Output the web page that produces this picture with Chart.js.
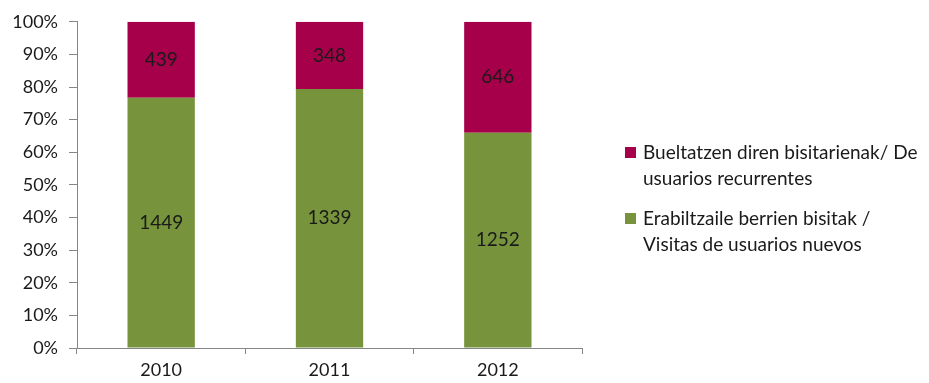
<!DOCTYPE html>
<html>
<head>
<meta charset="utf-8">
<script src="https://cdn.jsdelivr.net/npm/chart.js@4"></script>
<style>
  html, body { margin: 0; padding: 0; background: #fff; }
  #wrap { width: 929px; height: 383px; }
</style>
</head>
<body>
<div id="wrap"><canvas id="myChart" width="929" height="383"></canvas></div>
<script>
var years = ['2010', '2011', '2012'];
var newVisits = [1449, 1339, 1252];
var returnVisits = [439, 348, 646];
var legendLines = [
    ['Bueltatzen diren bisitarienak/ De', 'usuarios recurrentes'],
    ['Erabiltzaile berrien bisitak /', 'Visitas de usuarios nuevos']
];
var yTicks = [0, 10, 20, 30, 40, 50, 60, 70, 80, 90, 100];

var redColor = '#A6004A';
var greenColor = '#77933C';
var textColor = '#1a1a1a';
var fontFamily = 'Lato, "Open Sans", sans-serif';

// share of each year's total, labels still show the counts
var totals = years.map(function (y, i) { return newVisits[i] + returnVisits[i]; });
var newPct = newVisits.map(function (v, i) { return v / totals[i] * 100; });
var retPct = returnVisits.map(function (v, i) { return v / totals[i] * 100; });

// write the counts in the middle of each segment
var valueLabels = {
    id: 'valueLabels',
    afterDatasetsDraw: function (chart) {
        var ctx = chart.ctx;
        ctx.save();
        ctx.font = '19px ' + fontFamily;
        ctx.fillStyle = textColor;
        ctx.textAlign = 'center';
        ctx.textBaseline = 'middle';
        chart.data.datasets.forEach(function (ds, di) {
            chart.getDatasetMeta(di).data.forEach(function (bar, i) {
                var p = bar.getProps(['x', 'y', 'base'], true);
                ctx.fillText(String(ds.counts[i]), p.x, (p.y + p.base) / 2);
            });
        });
        ctx.restore();
    }
};

// two-line legend on the right side
var sideLegend = {
    id: 'sideLegend',
    afterDraw: function (chart) {
        var ctx = chart.ctx;
        var items = [
            { color: redColor, lines: legendLines[0], top: 152 },
            { color: greenColor, lines: legendLines[1], top: 218 }
        ];
        ctx.save();
        ctx.font = '19px ' + fontFamily;
        ctx.textBaseline = 'middle';
        items.forEach(function (it) {
            ctx.fillStyle = it.color;
            ctx.fillRect(625, it.top - 5, 11, 11);
            ctx.fillStyle = textColor;
            it.lines.forEach(function (line, k) {
                ctx.fillText(line, 643, it.top + 1 + k * 26);
            });
        });
        ctx.restore();
    }
};

var ctx = document.getElementById('myChart');
var myChart = new Chart(ctx, {
    type: 'bar',
    data: {
        labels: years,
        datasets: [{
            label: legendLines[1].join(' '),
            data: newPct,
            counts: newVisits,
            backgroundColor: greenColor,
            categoryPercentage: 1,
            barPercentage: 0.4
        },
        {
            label: legendLines[0].join(' '),
            data: retPct,
            counts: returnVisits,
            backgroundColor: redColor,
            categoryPercentage: 1,
            barPercentage: 0.4
        }]
    },
    options: {
        responsive: false,
        animation: false,
        layout: { padding: { left: 0, top: 20, right: 347, bottom: 0 } },
        plugins: {
            legend: { display: false },
            tooltip: { enabled: false }
        },
        scales: {
            x: {
                stacked: true,
                grid: { offset: true, drawOnChartArea: false, drawTicks: true, tickLength: 6, color: '#868686' },
                border: { color: '#868686' },
                ticks: { color: textColor, font: { family: fontFamily, size: 18 }, padding: 5 },
                afterFit: function (s) { s.height = 35; }
            },
            y: {
                stacked: true,
                min: 0,
                max: 100,
                afterBuildTicks: function (s) { s.ticks = yTicks.map(function (v) { return { value: v }; }); },
                grid: { drawOnChartArea: false, drawTicks: true, tickLength: 8, color: '#868686' },
                border: { color: '#868686' },
                ticks: {
                    color: textColor,
                    font: { family: fontFamily, size: 18 },
                    padding: 11,
                    callback: function (v) { return v + '%'; }
                },
                afterFit: function (s) { s.width = 77; }
            }
        }
    },
    plugins: [valueLabels, sideLegend]
});
</script>
</body>
</html>
